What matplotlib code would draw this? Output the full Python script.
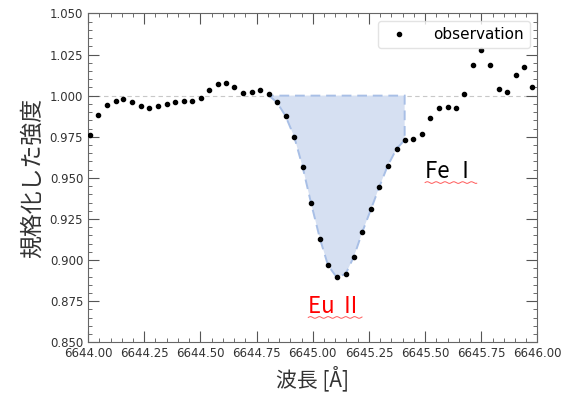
"""Профиль линии Eu II в нормированном спектре."""

import matplotlib
matplotlib.use("Agg")
import matplotlib.pyplot as plt
import numpy as np
from matplotlib.ticker import MultipleLocator

plt.rcParams["font.family"] = ["DejaVu Sans", "Noto Sans CJK JP"]

# Наблюдаемый спектр (длина волны в Å, нормированный поток)
wavelength = [
    6644.009, 6644.046, 6644.086, 6644.123, 6644.157, 6644.197, 6644.237,
    6644.273, 6644.311, 6644.351, 6644.387, 6644.426, 6644.464, 6644.501,
    6644.538, 6644.577, 6644.614, 6644.651, 6644.691, 6644.730, 6644.766,
    6644.805, 6644.841, 6644.879, 6644.918, 6644.955, 6644.992, 6645.032,
    6645.068, 6645.106, 6645.146, 6645.183, 6645.220, 6645.259, 6645.296,
    6645.333, 6645.373, 6645.409, 6645.447, 6645.487, 6645.523, 6645.561,
    6645.600, 6645.636, 6645.674, 6645.713, 6645.748, 6645.787, 6645.827,
    6645.863, 6645.903, 6645.941, 6645.978,
]
flux = [
    0.9758, 0.9882, 0.9945, 0.9969, 0.9979, 0.9959, 0.9935,
    0.9924, 0.9935, 0.9949, 0.9961, 0.9965, 0.9965, 0.9985,
    1.0032, 1.0070, 1.0079, 1.0050, 1.0016, 1.0020, 1.0032,
    1.0008, 0.9959, 0.9876, 0.9748, 0.9566, 0.9349, 0.9130,
    0.8968, 0.8897, 0.8915, 0.9021, 0.9169, 0.9309, 0.9444,
    0.9572, 0.9677, 0.9730, 0.9734, 0.9769, 0.9862, 0.9924,
    0.9929, 0.9924, 1.0012, 1.0184, 1.0275, 1.0186, 1.0042,
    1.0022, 1.0123, 1.0172, 1.0054,
]

# Границы линии Eu II (индексы точек) и уровень континуума
line_start, line_stop = 21, 38
continuum = 1.0

# Подписи линий: (текст, λ, поток, цвет)
line_labels = [
    ("Fe Ⅰ", 6645.50, 0.950, "black"),
    ("Eu Ⅱ", 6644.98, 0.868, "red"),
]


def wavy_underline(ax, text, color="#ff5a5a"):
    """Волнистое подчёркивание под текстом."""
    fig = ax.figure
    fig.canvas.draw()
    bbox = text.get_window_extent().transformed(ax.transAxes.inverted())
    xs = np.linspace(bbox.x0, bbox.x1, 200)
    ys = bbox.y0 + 0.001 + 0.0025 * np.sin((xs - bbox.x0) * 320)
    ax.plot(xs, ys, color=color, lw=0.7, transform=ax.transAxes, clip_on=False)


fig = plt.figure(figsize=(5.61, 3.94), dpi=100)
ax = fig.add_axes([0.157, 0.131, 0.801, 0.835])

x = np.array(wavelength)
y = np.array(flux)

# Континуум
ax.axhline(continuum, color="#c8c8c8", ls=(0, (4, 3)), lw=0.8, zorder=1)

# Площадь линии (эквивалентная ширина)
xs = x[line_start:line_stop]
ys = np.minimum(y[line_start:line_stop], continuum)
ax.fill(
    np.r_[xs, xs[-1]], np.r_[ys, continuum],
    facecolor="#d6e0f2", edgecolor="#a8bfe6", ls=(0, (5, 3)), lw=1.4, zorder=2
)

ax.plot(x, y, "o", color="black", ms=3.0, label="observation", zorder=3)

ax.set_xlim(6644.0, 6646.0)
ax.set_ylim(0.85, 1.05)
ax.xaxis.set_major_locator(MultipleLocator(0.25))
ax.xaxis.set_minor_locator(MultipleLocator(0.05))
ax.yaxis.set_major_locator(MultipleLocator(0.025))
ax.yaxis.set_minor_locator(MultipleLocator(0.005))
ax.xaxis.set_major_formatter(plt.FormatStrFormatter("%.2f"))
ax.yaxis.set_major_formatter(plt.FormatStrFormatter("%.3f"))

ax.tick_params(which="both", direction="in", top=True, right=True,
               colors="#555555", labelcolor="#333333", labelsize=8.5)
ax.tick_params(which="major", length=8, width=0.8)
ax.tick_params(which="minor", length=3, width=0.6)
for spine in ax.spines.values():
    spine.set_color("#666666")

ax.set_xlabel("波長 [Å]", fontsize=15, color="#333333",
              family=["Noto Sans CJK JP", "DejaVu Sans"])
ax.set_ylabel("規格化した強度", fontsize=16.5, color="#333333",
              family=["Noto Sans CJK JP", "DejaVu Sans"])

ax.legend(loc="upper right", fontsize=11, frameon=True, fancybox=True,
          edgecolor="#dddddd", handletextpad=1.2)

# Подписи линий ставятся после фиксации пределов осей
for label, lx, ly, color in line_labels:
    t = ax.text(lx, ly, label, color=color, fontsize=16, ha="left", va="baseline",
                family=["Noto Sans CJK JP", "DejaVu Sans"])
    wavy_underline(ax, t)

fig.savefig("out.png", dpi=100)
